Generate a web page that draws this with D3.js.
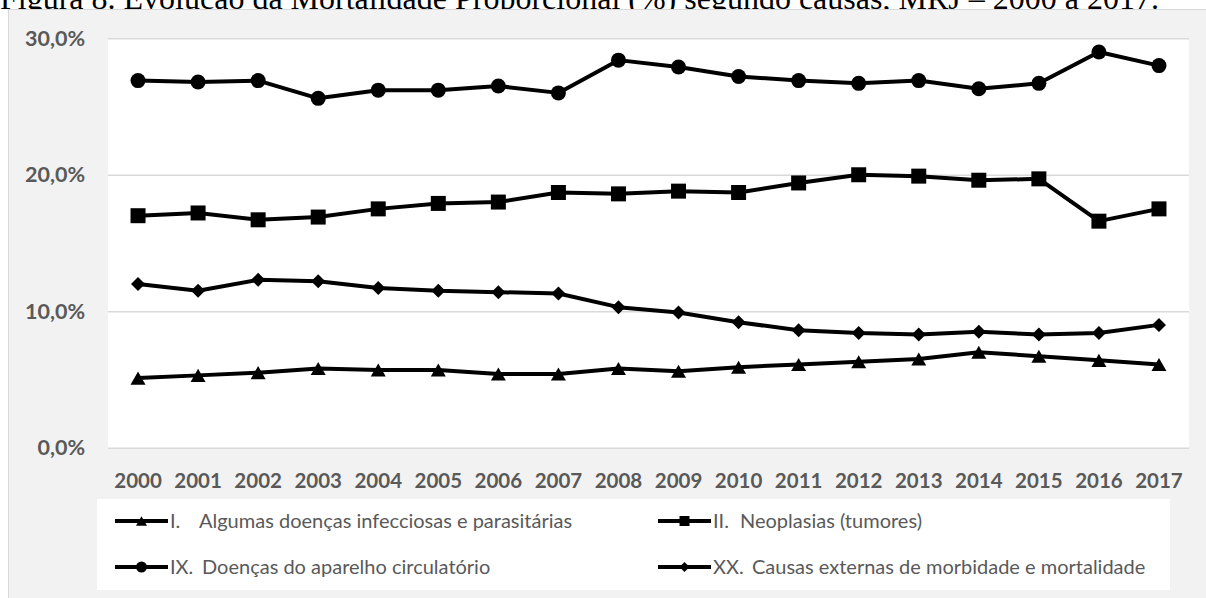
<!DOCTYPE html>
<html>
<head>
<meta charset="utf-8">
<script src="https://cdn.jsdelivr.net/npm/d3@7"></script>
<style>
  html, body { margin: 0; padding: 0; background: #fff; overflow: hidden; }
  svg text { white-space: pre; }
</style>
</head>
<body>
<svg id="chart" width="1206" height="598"></svg>
<script>
// Mortalidade proporcional (%) por grupo de causas, MRJ 2000-2017
const years = [2000, 2001, 2002, 2003, 2004, 2005, 2006, 2007, 2008,
               2009, 2010, 2011, 2012, 2013, 2014, 2015, 2016, 2017];

const infecciosas  = [5.1, 5.3, 5.5, 5.8, 5.7, 5.7, 5.4, 5.4, 5.8, 5.6, 5.9, 6.1, 6.3, 6.5, 7.0, 6.7, 6.4, 6.1];
const neoplasias   = [17.0, 17.2, 16.7, 16.9, 17.5, 17.9, 18.0, 18.7, 18.6, 18.8, 18.7, 19.4, 20.0, 19.9, 19.6, 19.7, 16.6, 17.5];
const circulatorio = [26.9, 26.8, 26.9, 25.6, 26.2, 26.2, 26.5, 26.0, 28.4, 27.9, 27.2, 26.9, 26.7, 26.9, 26.3, 26.7, 29.0, 28.0];
const externas     = [12.0, 11.5, 12.3, 12.2, 11.7, 11.5, 11.4, 11.3, 10.3, 9.9, 9.2, 8.6, 8.4, 8.3, 8.5, 8.3, 8.4, 9.0];

const yTicks = [0, 10, 20, 30];

const numerals     = ["I.", "II.", "IX.", "XX."];
const descriptions = ["Algumas doenças infecciosas e parasitárias",
                      "Neoplasias (tumores)",
                      "Doenças do aparelho circulatório",
                      "Causas externas de morbidade e mortalidade"];

const titleText = "Figura 8. Evolução da Mortalidade Proporcional (%) segundo causas, MRJ – 2000 a 2017.";

// Marker shapes (size = squared box width), centred on their bounding box
const triangleBox = {
  draw(ctx, size) {
    const w = Math.sqrt(size), h = w * 0.87;
    ctx.moveTo(0, -h / 2); ctx.lineTo(w / 2, h / 2); ctx.lineTo(-w / 2, h / 2); ctx.closePath();
  }
};
const squareBox = {
  draw(ctx, size) {
    const r = Math.sqrt(size) / 2;
    ctx.moveTo(-r, -r); ctx.lineTo(r, -r); ctx.lineTo(r, r); ctx.lineTo(-r, r); ctx.closePath();
  }
};
const circleBox = {
  draw(ctx, size) {
    const r = Math.sqrt(size) / 2;
    ctx.moveTo(r, 0); ctx.arc(0, 0, r, 0, 2 * Math.PI);
  }
};
const diamondBox = {
  draw(ctx, size) {
    const r = Math.sqrt(size) / 2;
    ctx.moveTo(0, -r); ctx.lineTo(r, 0); ctx.lineTo(0, r); ctx.lineTo(-r, 0); ctx.closePath();
  }
};

const series = [
  { values: infecciosas,  shape: triangleBox, mark: 15, legendMark: 11 },
  { values: neoplasias,   shape: squareBox,   mark: 15, legendMark: 10 },
  { values: circulatorio, shape: circleBox,   mark: 15, legendMark: 11 },
  { values: externas,     shape: diamondBox,  mark: 14, legendMark: 10 }
];

const svg = d3.select("#chart");

// Title line (partly hidden behind the chart frame)
svg.append("text")
  .attr("x", 0).attr("y", 8.5)
  .attr("font-family", "'Liberation Serif', 'Times New Roman', serif")
  .attr("font-size", 32)
  .attr("fill", "#000")
  .text(titleText);

// Chart frame
svg.append("rect")
  .attr("x", 8.5).attr("y", 9.5)
  .attr("width", 1220).attr("height", 620)
  .attr("fill", "#f2f2f2").attr("stroke", "#d9d9d9").attr("stroke-width", 1);

const plot = { left: 108, right: 1189, top: 38.3, bottom: 447.7 };

// Plot background
svg.append("rect")
  .attr("x", plot.left).attr("y", plot.top)
  .attr("width", plot.right - plot.left).attr("height", plot.bottom - plot.top)
  .attr("fill", "#fff");

const x = d3.scaleBand().domain(years).range([plot.left, plot.right]).padding(0);
const y = d3.scaleLinear().domain([0, 30]).range([plot.bottom, plot.top]);
const cx = d => x(d) + x.bandwidth() / 2;

const fmtPct = d => d3.format(".1f")(d).replace(".", ",") + "%";

// Y axis with gridlines
const yAxis = svg.append("g")
  .attr("transform", `translate(${plot.left},0)`)
  .call(d3.axisLeft(y).tickValues(yTicks).tickFormat(fmtPct)
        .tickSizeInner(-(plot.right - plot.left)).tickSizeOuter(0).tickPadding(23));
yAxis.select(".domain").remove();
yAxis.selectAll(".tick line").attr("stroke", "#d9d9d9").attr("stroke-width", 1.5);
yAxis.selectAll(".tick text")
  .attr("font-family", "Lato, 'Open Sans', sans-serif")
  .attr("font-weight", "bold")
  .attr("font-size", 21.5)
  .attr("fill", "#595959");

// X axis labels
const xAxis = svg.append("g")
  .attr("transform", `translate(0,${plot.bottom})`)
  .call(d3.axisBottom(x).tickSize(0).tickPadding(0));
xAxis.select(".domain").remove();
xAxis.selectAll(".tick text")
  .attr("y", 33.5).attr("dy", "0.35em")
  .attr("font-family", "Lato, 'Open Sans', sans-serif")
  .attr("font-weight", "bold")
  .attr("font-size", 20.5)
  .attr("fill", "#595959");

// Series lines and markers
const line = d3.line().x((d, i) => cx(years[i])).y(d => y(d));
const symbol = d3.symbol();

series.forEach(s => {
  svg.append("path")
    .datum(s.values)
    .attr("d", line)
    .attr("fill", "none")
    .attr("stroke", "#000")
    .attr("stroke-width", 4)
    .attr("stroke-linejoin", "round");
  svg.append("g").selectAll("path")
    .data(s.values)
    .join("path")
    .attr("transform", (d, i) => `translate(${cx(years[i])},${y(d)})`)
    .attr("d", symbol.type(s.shape).size(s.mark * s.mark)())
    .attr("fill", "#000");
});

// Legend
const legendBox = { x: 97, y: 499, w: 1073, h: 91 };
svg.append("rect")
  .attr("x", legendBox.x).attr("y", legendBox.y)
  .attr("width", legendBox.w).attr("height", legendBox.h)
  .attr("fill", "#fff");

const legendCols = [115, 658];
const legendRows = [521, 567];
const descX = [199, 740, 202, 752];

series.forEach((s, i) => {
  const col = i % 2, row = Math.floor(i / 2);
  const x0 = legendCols[col], yy = legendRows[row];
  const g = svg.append("g");
  g.append("line")
    .attr("x1", x0).attr("x2", x0 + 53).attr("y1", yy).attr("y2", yy)
    .attr("stroke", "#000").attr("stroke-width", 4);
  g.append("path")
    .attr("transform", `translate(${x0 + 26.5},${yy})`)
    .attr("d", symbol.type(s.shape).size(s.legendMark * s.legendMark)())
    .attr("fill", "#000");
  const t = g.append("text")
    .attr("y", yy).attr("dy", "0.35em")
    .attr("font-family", "Lato, 'Open Sans', sans-serif")
    .attr("font-size", 20)
    .attr("fill", "#595959");
  t.append("tspan").attr("x", x0 + 55).text(numerals[i]);
  t.append("tspan").attr("x", descX[i]).text(descriptions[i]);
});
</script>
</body>
</html>
